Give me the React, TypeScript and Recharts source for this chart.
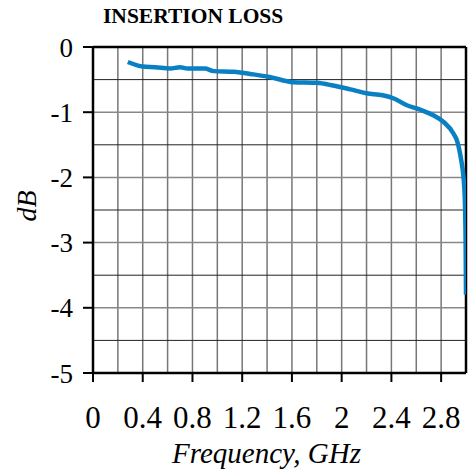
import React from "react";
import { LineChart, Line, XAxis, YAxis, ReferenceLine, Label } from "recharts";

const freq = [0.28, 0.4, 0.5, 0.62, 0.7, 0.76, 0.9, 0.97, 1.13, 1.29, 1.42, 1.61, 1.8, 1.93, 2.07, 2.2, 2.33, 2.42, 2.52, 2.63, 2.74, 2.82, 2.9, 2.93, 2.96, 2.98, 2.99, 2.997, 3.0];
const loss = [-0.23, -0.3, -0.31, -0.33, -0.31, -0.33, -0.33, -0.37, -0.38, -0.42, -0.46, -0.54, -0.55, -0.59, -0.65, -0.71, -0.74, -0.79, -0.89, -0.96, -1.05, -1.15, -1.33, -1.45, -1.72, -2.0, -2.3, -3.0, -3.8];

const xTicks = [0, 0.4, 0.8, 1.2, 1.6, 2, 2.4, 2.8];
const yTicks = [0, -1, -2, -3, -4, -5];
const xGrid = [0.2, 0.4, 0.6, 0.8, 1, 1.2, 1.4, 1.6, 1.8, 2, 2.2, 2.4, 2.6, 2.8];
const yGrid = [-0.5, -1, -1.5, -2, -2.5, -3, -3.5, -4, -4.5];

const data = freq.map((f, i) => ({ f, db: loss[i] }));

const FONT = "'Liberation Serif', 'Times New Roman', serif";

export default function App() {
  return (
    <div
      style={{
        position: "absolute",
        left: 0,
        top: 0,
        width: 471,
        height: 475,
        background: "#fff",
        fontFamily: FONT,
      }}
    >
      <style>{`.recharts-wrapper text, .recharts-text { font-family: ${FONT} !important; }`}</style>
      <div
        style={{
          position: "absolute",
          left: 103,
          top: 4,
          fontWeight: "bold",
          fontSize: 21.5,
          color: "#000",
        }}
      >
        INSERTION LOSS
      </div>
      <LineChart
        width={471}
        height={475}
        data={data}
        margin={{ top: 47, right: 5, left: 0, bottom: 0 }}
      >
        {xGrid.map((v) => (
          <ReferenceLine key={"x" + v} x={v} stroke="#777" strokeWidth={1.5} />
        ))}
        {yGrid.map((v) => (
          <ReferenceLine
            key={"y" + v}
            y={v}
            stroke={Number.isInteger(v) ? "#888" : "#222"}
            strokeWidth={Number.isInteger(v) ? 1.5 : 1}
          />
        ))}
        <ReferenceLine y={0} stroke="#000" strokeWidth={2.5} />
        <ReferenceLine x={3} stroke="#000" strokeWidth={2.5} />
        <XAxis
          dataKey="f"
          type="number"
          domain={[0, 3]}
          ticks={xTicks}
          allowDataOverflow
          height={102}
          axisLine={{ stroke: "#000", strokeWidth: 2.5 }}
          tickLine={{ stroke: "#000", strokeWidth: 2 }}
          tickSize={9}
          tickMargin={24}
          interval={0}
          tick={{ fill: "#000", fontSize: 31 }}
        >
          <Label
            value="Frequency, GHz"
            position="insideBottom"
            offset={12}
            dx={-13}
            style={{ fill: "#000", fontSize: 29, fontStyle: "italic" }}
          />
        </XAxis>
        <YAxis
          type="number"
          domain={[-5, 0]}
          ticks={yTicks}
          allowDataOverflow
          width={93}
          axisLine={{ stroke: "#000", strokeWidth: 2.5 }}
          tickLine={{ stroke: "#000", strokeWidth: 2 }}
          tickSize={10}
          tickMargin={10}
          interval={0}
          tick={{ fill: "#000", fontSize: 27 }}
        >
          <Label
            value="dB"
            angle={-90}
            position="insideLeft"
            offset={26}
            dy={-4}
            style={{ fill: "#000", fontSize: 28, fontStyle: "italic", textAnchor: "middle" }}
          />
        </YAxis>
        <Line
          dataKey="db"
          type="monotone"
          stroke="#0a80c4"
          strokeWidth={4.5}
          dot={false}
          isAnimationActive={false}
        />
      </LineChart>
    </div>
  );
}
